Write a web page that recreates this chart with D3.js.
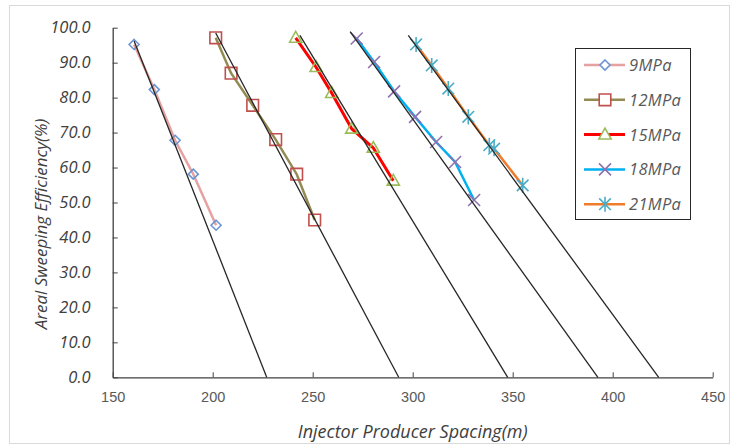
<!DOCTYPE html>
<html>
<head>
<meta charset="utf-8">
<script src="https://cdn.jsdelivr.net/npm/d3@7"></script>
<style>
  body { margin: 0; background: #fff; }
  svg { display: block; }
</style>
</head>
<body>
<div id="chart"></div>
<script>
"use strict";

// series names and the values
var seriesNames = ["9MPa", "12MPa", "15MPa", "18MPa", "21MPa"];

var spacing9  = [160.7, 170.8, 181.2, 190.3, 201.7];
var eff9      = [95.2, 82.3, 67.8, 58.1, 43.5];
var spacing12 = [201.5, 209.2, 220.0, 231.5, 242.0, 251.0];
var eff12     = [97.1, 87.0, 77.8, 68.0, 58.1, 45.0];
var spacing15 = [241.5, 251.7, 259.5, 269.5, 280.3, 290.3];
var eff15     = [97.1, 88.7, 81.3, 71.1, 65.6, 56.2];
var spacing18 = [272.0, 280.7, 290.7, 301.2, 311.7, 321.2, 330.7];
var eff18     = [96.9, 90.2, 81.8, 74.5, 67.3, 61.6, 50.7];
var spacing21 = [301.7, 309.5, 317.8, 327.8, 338.3, 340.7, 355.0];
var eff21     = [95.2, 89.2, 82.6, 74.5, 66.4, 65.4, 54.9];

// black trend lines: start point and the spacing where they reach 0
var fitStartX = [160.7, 201.5, 243.6, 268.7, 297.8];
var fitStartY = [96.2, 98.5, 97.8, 98.9, 97.8];
var fitEndX   = [227.0, 293.0, 347.5, 392.6, 423.0];

var xTicks = [150, 200, 250, 300, 350, 400, 450];
var yTicks = [0, 10, 20, 30, 40, 50, 60, 70, 80, 90, 100];

var lineColors   = ["#e6a1a1", "#948a54", "#ff0000", "#00b0f0", "#f07c2b"];
var markerColors = ["#6b96d2", "#c0504d", "#9bbb59", "#8e70b0", "#4bacc6"];
var markerTypes  = ["diamond", "square", "triangle", "x", "star"];
var lineWidths   = [2.5, 2.5, 3, 2.5, 2.5];

var W = 737, H = 448;
var margin = { left: 112.7, right: 24.3, top: 27.7, bottom: 70.7 };

var x = d3.scaleLinear().domain([150, 450]).range([margin.left, W - margin.right]);
var y = d3.scaleLinear().domain([0, 100]).range([H - margin.bottom, margin.top]);

var svg = d3.select("#chart").append("svg")
  .attr("width", W)
  .attr("height", H);

// chart border
svg.append("rect")
  .attr("x", 9.5).attr("y", 5.5)
  .attr("width", 720).attr("height", 438)
  .attr("fill", "#fff")
  .attr("stroke", "#d9d9d9");

// marker path, s = half size
function markerPath(type, s) {
  var p = d3.path();
  if (type === "diamond") {
    p.moveTo(0, -s); p.lineTo(s, 0); p.lineTo(0, s); p.lineTo(-s, 0); p.closePath();
  } else if (type === "square") {
    p.rect(-s, -s, 2 * s, 2 * s);
  } else if (type === "triangle") {
    p.moveTo(0, -s * 1.1); p.lineTo(s * 1.05, s * 0.75); p.lineTo(-s * 1.05, s * 0.75); p.closePath();
  } else if (type === "x") {
    p.moveTo(-s, -s); p.lineTo(s, s); p.moveTo(s, -s); p.lineTo(-s, s);
  } else {
    p.moveTo(-s, -s); p.lineTo(s, s); p.moveTo(s, -s); p.lineTo(-s, s);
    p.moveTo(0, -s * 1.3); p.lineTo(0, s * 1.3);
  }
  return p.toString();
}
var markerSizes = [5, 5.8, 5.8, 6, 5.8];

// axes
var xAxis = d3.axisBottom(x).tickValues(xTicks).tickSizeInner(-5).tickSizeOuter(0)
  .tickFormat(d3.format("d"));
var yAxis = d3.axisLeft(y).tickValues(yTicks).tickSizeInner(-5).tickSizeOuter(0)
  .tickFormat(d3.format(".1f"));

var gx = svg.append("g")
  .attr("transform", "translate(0," + y(0) + ")")
  .call(xAxis);
gx.select(".domain").attr("stroke", "#404040").attr("stroke-width", 1.3);
gx.selectAll(".tick line").attr("stroke", "#404040");
gx.selectAll(".tick text")
  .attr("y", 25)
  .attr("dy", 0)
  .style("font-family", "'Liberation Sans', sans-serif")
  .style("font-size", "14.5px")
  .attr("fill", "#595959");

var gy = svg.append("g")
  .attr("transform", "translate(" + x(150) + ",0)")
  .call(yAxis);
gy.select(".domain").attr("stroke", "#404040").attr("stroke-width", 1.3);
gy.selectAll(".tick line").attr("stroke", "#404040");
gy.selectAll(".tick text")
  .attr("x", -22)
  .style("font-family", "'Open Sans', sans-serif")
  .style("font-style", "italic")
  .style("font-size", "16.5px")
  .attr("fill", "#404040");

// axis titles
svg.append("text")
  .attr("x", (x(150) + x(450)) / 2)
  .attr("y", 438)
  .attr("text-anchor", "middle")
  .style("font-family", "'Open Sans', sans-serif")
  .style("font-style", "italic")
  .style("font-size", "18px")
  .attr("fill", "#404040")
  .text("Injector Producer Spacing(m)");

svg.append("text")
  .attr("transform", "translate(47,224) rotate(-90)")
  .attr("text-anchor", "middle")
  .style("font-family", "'Open Sans', sans-serif")
  .style("font-style", "italic")
  .style("font-size", "17px")
  .attr("fill", "#404040")
  .text("Areal Sweeping Efficiency(%)");

// series
var xs = [spacing9, spacing12, spacing15, spacing18, spacing21];
var ys = [eff9, eff12, eff15, eff18, eff21];

var line = d3.line()
  .x(function(d) { return x(d[0]); })
  .y(function(d) { return y(d[1]); });

seriesNames.forEach(function(name, i) {
  var pts = xs[i].map(function(v, j) { return [v, ys[i][j]]; });
  svg.append("path")
    .datum(pts)
    .attr("d", line)
    .attr("fill", "none")
    .attr("stroke", lineColors[i])
    .attr("stroke-width", lineWidths[i]);
});

seriesNames.forEach(function(name, i) {
  var pts = xs[i].map(function(v, j) { return [v, ys[i][j]]; });
  svg.selectAll(null)
    .data(pts)
    .enter().append("path")
    .attr("transform", function(d) { return "translate(" + x(d[0]) + "," + y(d[1]) + ")"; })
    .attr("d", markerPath(markerTypes[i], markerSizes[i]))
    .attr("fill", "none")
    .attr("stroke", markerColors[i])
    .attr("stroke-width", 1.6);
});

// black trend lines on top
fitStartX.forEach(function(v, i) {
  svg.append("path")
    .datum([[v, fitStartY[i]], [fitEndX[i], 0]])
    .attr("d", line)
    .attr("fill", "none")
    .attr("stroke", "#262626")
    .attr("stroke-width", 1.3);
});

// legend
var legend = svg.append("g");
legend.append("rect")
  .attr("x", 575.5).attr("y", 48.5)
  .attr("width", 115).attr("height", 171)
  .attr("fill", "#fff")
  .attr("stroke", "#262626");

seriesNames.forEach(function(name, i) {
  var ly = 65 + 34.8 * i;
  legend.append("line")
    .attr("x1", 584).attr("x2", 625)
    .attr("y1", ly).attr("y2", ly)
    .attr("stroke", lineColors[i])
    .attr("stroke-width", lineWidths[i]);
  legend.append("path")
    .attr("transform", "translate(605," + ly + ")")
    .attr("d", markerPath(markerTypes[i], markerSizes[i]))
    .attr("fill", "#fff")
    .attr("stroke", markerColors[i])
    .attr("stroke-width", 1.6);
  legend.append("text")
    .attr("x", 629).attr("y", ly)
    .attr("dy", "0.36em")
    .style("font-family", "'Open Sans', sans-serif")
    .style("font-style", "italic")
    .style("font-size", "16.5px")
    .style("letter-spacing", "0.3px")
    .attr("fill", "#595959")
    .text(name);
});
</script>
</body>
</html>
